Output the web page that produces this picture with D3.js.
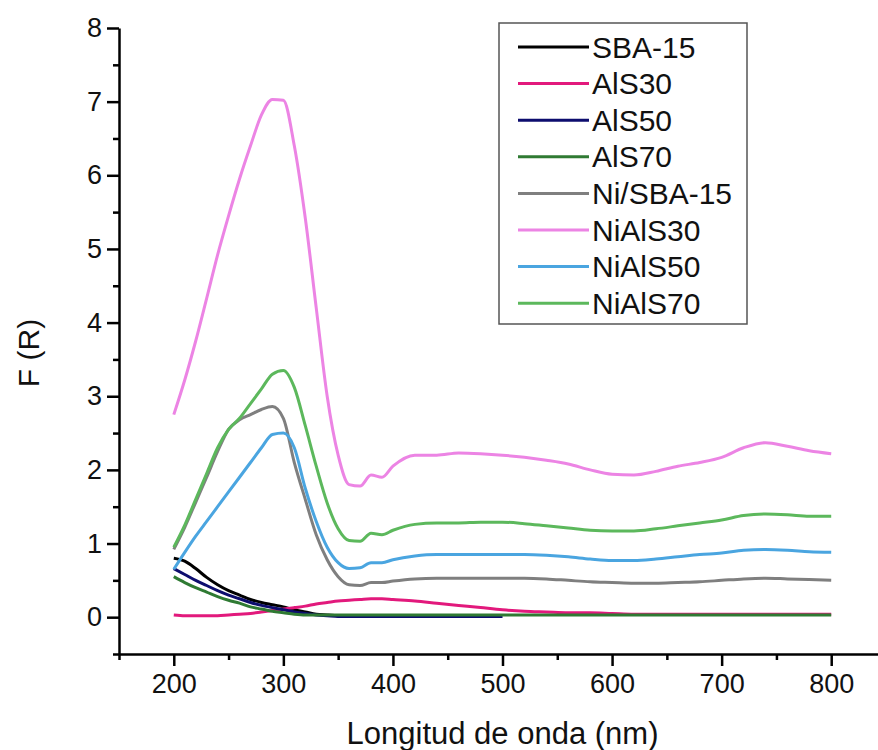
<!DOCTYPE html>
<html lang="es">
<head>
<meta charset="UTF-8">
<script src="https://d3js.org/d3.v7.min.js"></script>
<title>F(R) vs longitud de onda</title>
<style>
  body { margin: 0; background: #fff; }
  text { font-family: "Liberation Sans", Arial, sans-serif; fill: #111; }
</style>
</head>
<body>
<div id="chart"></div>
<script>
// wavelengths (nm) shared by every series
var wavelength = [200,210,220,230,240,250,260,270,280,290,300,310,320,330,340,350,360,370,380,390,400,
  420,440,460,480,500,520,540,560,580,600,620,640,660,680,700,720,740,760,780,800];

// F(R) per sample, null where the curve was not recorded
var sba15 = [0.80,0.76,0.66,0.54,0.44,0.36,0.30,0.24,0.20,0.17,0.14,0.10,0.07,0.04,0.03,0.02,0.01,0.01,0.01,0.01,0.01,
  0.01,0.01,0.01,0.01,null,null,null,null,null,null,null,null,null,null,null,null,null,null,null,null];
var als30 = [0.03,0.02,0.02,0.02,0.02,0.03,0.04,0.05,0.07,0.09,0.11,0.13,0.15,0.18,0.20,0.22,0.23,0.24,0.25,0.25,0.24,
  0.22,0.19,0.16,0.13,0.10,0.08,0.07,0.06,0.06,0.05,0.04,0.04,0.04,0.04,0.04,0.04,0.04,0.04,0.04,0.04];
var als50 = [0.66,0.58,0.50,0.43,0.36,0.30,0.25,0.20,0.16,0.13,0.10,0.07,0.05,0.03,0.02,0.01,0.01,0.01,0.01,0.01,0.01,
  0.01,0.01,0.01,0.01,0.01,null,null,null,null,null,null,null,null,null,null,null,null,null,null,null];
var als70 = [0.55,0.47,0.40,0.34,0.28,0.23,0.19,0.14,0.11,0.08,0.06,0.04,0.03,0.03,0.03,0.03,0.03,0.03,0.03,0.03,0.03,
  0.03,0.03,0.03,0.03,0.03,0.03,0.03,0.03,0.03,0.03,0.03,0.03,0.03,0.03,0.03,0.03,0.03,0.03,0.03,0.03];
var niSba15 = [0.92,1.22,1.56,1.90,2.25,2.55,2.68,2.75,2.82,2.86,2.70,2.10,1.60,1.12,0.78,0.55,0.44,0.43,0.47,0.47,0.49,
  0.52,0.53,0.53,0.53,0.53,0.53,0.52,0.50,0.48,0.47,0.46,0.46,0.47,0.48,0.50,0.52,0.53,0.52,0.51,0.50];
var niAls30 = [2.75,3.22,3.75,4.33,4.92,5.45,5.95,6.40,6.82,7.03,7.02,6.40,5.42,4.20,3.00,2.20,1.80,1.78,1.93,1.90,2.05,
  2.20,2.20,2.23,2.22,2.20,2.17,2.13,2.08,2.00,1.94,1.93,1.98,2.05,2.10,2.17,2.30,2.37,2.32,2.26,2.22];
var niAls50 = [0.65,0.88,1.10,1.30,1.50,1.70,1.90,2.10,2.30,2.48,2.50,2.30,1.75,1.30,0.95,0.74,0.66,0.67,0.74,0.74,0.78,
  0.83,0.85,0.85,0.85,0.85,0.85,0.84,0.82,0.79,0.77,0.77,0.79,0.82,0.85,0.87,0.91,0.92,0.91,0.89,0.88];
var niAls70 = [0.95,1.25,1.60,1.95,2.30,2.55,2.70,2.90,3.10,3.30,3.35,3.12,2.60,2.05,1.55,1.20,1.04,1.03,1.14,1.12,1.18,
  1.26,1.28,1.28,1.29,1.29,1.27,1.24,1.21,1.18,1.17,1.17,1.20,1.24,1.28,1.32,1.38,1.40,1.39,1.37,1.37];

var names = ["SBA-15","AlS30","AlS50","AlS70","Ni/SBA-15","NiAlS30","NiAlS50","NiAlS70"];
var colors = ["#000000","#e2197c","#0d0d6e","#2f7a33","#7f7f7f","#ec84e4","#4aa5e0","#5cb85c"];
var xTicks = [200,300,400,500,600,700,800];
var yTicks = [0,1,2,3,4,5,6,7,8];

var seriesValues = [sba15, als30, als50, als70, niSba15, niAls30, niAls50, niAls70];

var W = 878, H = 750;

var svg = d3.select("#chart").append("svg")
  .attr("width", W).attr("height", H);
svg.append("rect").attr("width", W).attr("height", H).attr("fill", "#fff");

var x = d3.scaleLinear().domain([150, 850]).range([119, 886]);
var y = d3.scaleLinear().domain([-0.5, 8]).range([654, 28]);

// curves
var line = d3.line()
  .defined(function(d){ return d[1] != null; })
  .x(function(d){ return x(d[0]); })
  .y(function(d){ return y(d[1]); })
  .curve(d3.curveMonotoneX);

seriesValues.forEach(function(vals, i) {
  var pts = wavelength.map(function(w, j){ return [w, vals[j]]; });
  svg.append("path")
    .datum(pts)
    .attr("d", line)
    .attr("fill", "none")
    .attr("stroke", colors[i])
    .attr("stroke-width", 3)
    .attr("stroke-linejoin", "round");
});

// x axis, major + minor ticks
var xMinor = d3.range(150, 851, 100);
var gx = svg.append("g").attr("transform", "translate(0," + y(-0.5) + ")");
gx.call(d3.axisBottom(x).tickValues(xTicks).tickSize(12).tickSizeOuter(0).tickPadding(8));
gx.append("g").call(d3.axisBottom(x).tickValues(xMinor).tickSize(6).tickFormat(""))
  .select(".domain").remove();

// y axis
var yMinor = d3.range(-0.5, 8, 1);
var gy = svg.append("g").attr("transform", "translate(" + x(150) + ",0)");
gy.call(d3.axisLeft(y).tickValues(yTicks).tickSize(12).tickSizeOuter(0).tickPadding(5));
gy.append("g").call(d3.axisLeft(y).tickValues(yMinor).tickSize(6).tickFormat(""))
  .select(".domain").remove();

svg.selectAll(".domain").attr("stroke", "#000").attr("stroke-width", 2.5);
svg.selectAll(".tick line").attr("stroke", "#000").attr("stroke-width", 2.5);
svg.selectAll(".tick text").attr("font-size", "27px")
  .attr("font-family", "'Liberation Sans', Arial, sans-serif").attr("fill", "#111");

// axis titles
svg.append("text")
  .attr("x", x(500)).attr("y", 744)
  .attr("text-anchor", "middle")
  .attr("font-size", "31px")
  .text("Longitud de onda (nm)");

svg.append("text")
  .attr("transform", "translate(39," + 353 + ") rotate(-90)")
  .attr("text-anchor", "middle")
  .attr("font-size", "30px")
  .text("F (R)");

// legend
var lg = svg.append("g");
lg.append("rect")
  .attr("x", 499).attr("y", 23).attr("width", 248).attr("height", 301)
  .attr("fill", "#fff").attr("stroke", "#555").attr("stroke-width", 1.5);

names.forEach(function(n, i) {
  var cy = 47 + i * 36.6;
  lg.append("line")
    .attr("x1", 518).attr("x2", 589).attr("y1", cy).attr("y2", cy)
    .attr("stroke", colors[i]).attr("stroke-width", 3);
  lg.append("text")
    .attr("x", 592).attr("y", cy + 10.5)
    .attr("font-size", "30px")
    .text(n);
});
</script>
</body>
</html>
